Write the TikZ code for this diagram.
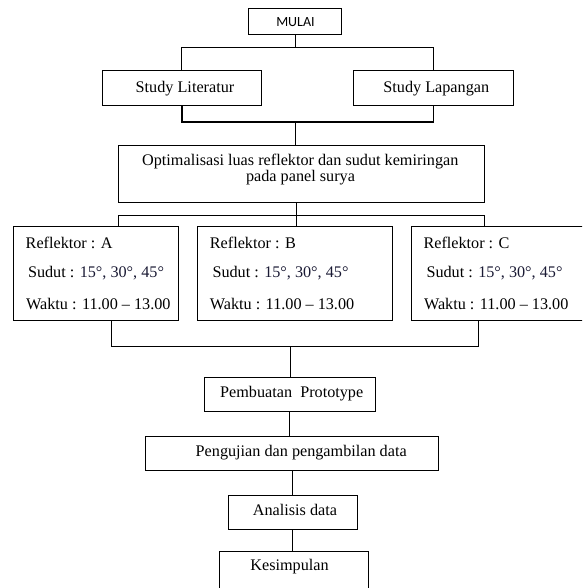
\documentclass[tikz,border=0pt]{standalone}
\usepackage{fontspec}
\setmainfont{Liberation Serif}
\newfontfamily\mulaifont{Carlito}
\usetikzlibrary{calc}
\definecolor{numcol}{HTML}{1A1A34}
\begin{document}
\begin{tikzpicture}[x=1pt,y=-1pt,
  box/.style={draw=black,line width=1pt,inner sep=0pt,fill=none},
  txt/.style={inner sep=0pt,anchor=base,font=\fontsize{16.2}{19}\selectfont},
  ltxt/.style={inner sep=0pt,anchor=base west,font=\fontsize{16.2}{19}\selectfont},
  conn/.style={draw=black,line width=1pt}]
\useasboundingbox (0,0) rectangle (582,588);
\clip (0,0) rectangle (582,588);
\fill[white] (0,0) rectangle (582,588);
% boxes
\node[box,minimum width=93.2pt,minimum height=26pt] (mulai) at (295.3,21.3) {};
\node[box,minimum width=159.2pt,minimum height=34.6pt] (lit) at (181.7,88) {};
\node[box,minimum width=160pt,minimum height=34.6pt] (lap) at (433.4,88) {};
\node[box,minimum width=366.8pt,minimum height=56.3pt] (opt) at (301.4,173.85) {};
\node[box,minimum width=165.1pt,minimum height=93.3pt] (ra) at (95.95,273.35) {};
\node[box,minimum width=194.6pt,minimum height=93.3pt] (rb) at (295.1,273.35) {};
\node[box,minimum width=200pt,minimum height=93.3pt] (rc) at (511.7,273.35) {};
\node[box,minimum width=171pt,minimum height=34.4pt] (proto) at (289.8,394.5) {};
\node[box,minimum width=293.3pt,minimum height=34pt] (uji) at (291.65,453.7) {};
\node[box,minimum width=128.7pt,minimum height=34pt] (ana) at (292.65,512) {};
\node[box,minimum width=149.3pt,minimum height=60pt] (kes) at (293.65,581) {};
% texts
\node[inner sep=0pt,anchor=base,font=\mulaifont\fontsize{14}{16}\selectfont] (tmulai) at (295.5,26.9) {MULAI};
\node[txt] (tlit) at (185,92.7) {Study Literatur};
\node[txt] (tlap) at (436.3,92.7) {Study Lapangan};
\node[txt] (topt1) at (300.3,165.5) {Optimalisasi luas reflektor dan sudut kemiringan};
\node[txt] (topt2) at (300.5,181.3) {pada panel surya};
\node[ltxt] (ra1) at (25.5,248.5) {Reflektor : A};
\node[ltxt] (ra2) at (27.8,277.5) {Sudut : \textcolor{numcol}{15°, 30°, 45°}};
\node[ltxt] (ra3) at (26,309) {Waktu : 11.00 – 13.00};
\node[ltxt] (rb1) at (209.7,248.5) {Reflektor : B};
\node[ltxt] (rb2) at (212.3,277.5) {Sudut : \textcolor{numcol}{15°, 30°, 45°}};
\node[ltxt] (rb3) at (209.7,309) {Waktu : 11.00 – 13.00};
\node[ltxt] (rc1) at (423.3,248.5) {Reflektor : C};
\node[ltxt] (rc2) at (426.3,277.5) {Sudut : \textcolor{numcol}{15°, 30°, 45°}};
\node[ltxt] (rc3) at (423.8,309) {Waktu : 11.00 – 13.00};
\node[txt] (tproto) at (291.7,397.3) {Pembuatan\ \ Prototype};
\node[txt] (tuji) at (301.2,456.7) {Pengujian dan pengambilan data};
\node[txt] (tana) at (295,515) {Analisis data};
\node[txt] (tkes) at (289.5,570.5) {Kesimpulan};
% connectors
\coordinate (j1) at ($(mulai.south)+(0,13)$);
\draw[conn] (mulai.south) -- (j1);
\draw[conn] (lit.north) |- (j1) -| (lap.north);
\coordinate (j2) at (295.8,122);
\draw[conn,line width=1.7pt] (lit.south) |- (j2) -| (lap.south);
\draw[conn] (j2) -- (j2 |- opt.north);
\coordinate (t1) at (118,215);
\coordinate (t2) at (296.6,215);
\coordinate (t3) at (484.5,215);
\draw[conn] (t2 |- opt.south) -- (t2 |- rb.north);
\draw[conn] (t1 |- ra.north) -- (t1) -- (t3) -- (t3 |- rc.north);
\coordinate (b1) at (111.4,346);
\coordinate (b2) at (290.2,346);
\coordinate (b3) at (478.8,346);
\draw[conn] (b1 |- ra.south) -- (b1) -- (b3) -- (b3 |- rc.south);
\draw[conn] (b2) -- (b2 |- proto.north);
\draw[conn] (proto.south) -- (proto.south |- uji.north);
\draw[conn] (ana.north |- uji.south) -- (ana.north);
\draw[conn] (ana.south) -- (ana.south |- kes.north);
\end{tikzpicture}
\end{document}
